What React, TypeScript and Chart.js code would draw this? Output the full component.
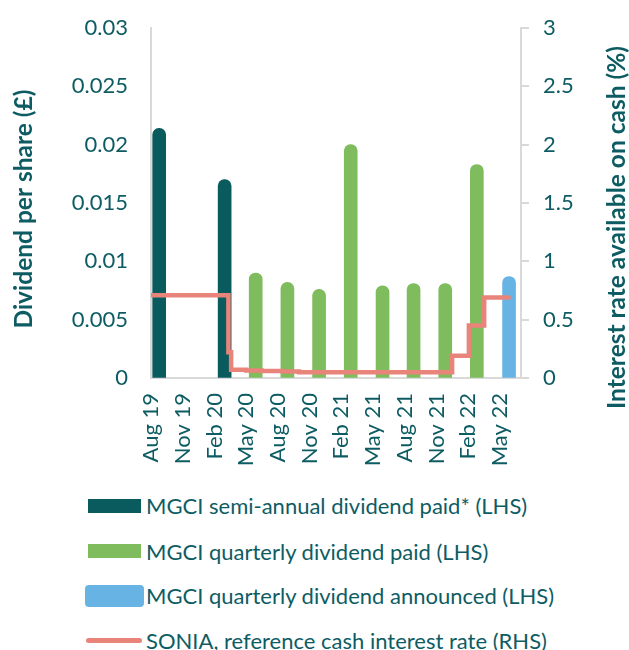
import React, { useEffect, useRef } from "react";
import { Chart, registerables } from "chart.js";

Chart.register(...registerables);

// ---- data ----
const tickLabels = ["Aug 19", "Nov 19", "Feb 20", "May 20", "Aug 20", "Nov 20", "Feb 21", "May 21", "Aug 21", "Nov 21", "Feb 22", "May 22"];
const tickDates = ["2019-08-01", "2019-11-01", "2020-02-01", "2020-05-01", "2020-08-01", "2020-11-01", "2021-02-01", "2021-05-01", "2021-08-01", "2021-11-01", "2022-02-01", "2022-05-01"];

const semiAnnualDates = ["2019-08-25", "2020-02-29"];
const semiAnnualValues = [0.0214, 0.017];

const quarterlyDates = ["2020-05-29", "2020-08-29", "2020-11-28", "2021-02-26", "2021-05-29", "2021-08-27", "2021-11-26", "2022-02-24"];
const quarterlyValues = [0.009, 0.0082, 0.0076, 0.02, 0.0079, 0.0081, 0.0081, 0.0183];

const announcedDates = ["2022-05-28"];
const announcedValues = [0.0087];

const soniaDates = ["2019-08-01", "2020-03-11", "2020-03-19", "2020-05-01", "2020-06-15", "2020-08-15", "2020-10-01", "2021-12-16", "2022-02-03", "2022-03-17", "2022-05-27"];
const soniaValues = [0.71, 0.22, 0.07, 0.065, 0.06, 0.055, 0.05, 0.19, 0.45, 0.69, 0.69];

const leftTickValues = [0, 0.005, 0.01, 0.015, 0.02, 0.025, 0.03];
const leftTickLabels = ["0", "0.005", "0.01", "0.015", "0.02", "0.025", "0.03"];
const rightTickValues = [0, 0.5, 1, 1.5, 2, 2.5, 3];
const rightTickLabels = ["0", "0.5", "1", "1.5", "2", "2.5", "3"];

const leftTitle = "Dividend per share (£)";
const rightTitle = "Interest rate available on cash (%)";
const legendLabels = [
  "MGCI semi-annual dividend paid* (LHS)",
  "MGCI quarterly dividend paid (LHS)",
  "MGCI quarterly dividend announced (LHS)",
  "SONIA, reference cash interest rate (RHS)",
];

// ---- styles ----
const FONT = "Lato, 'Open Sans', sans-serif";
const TEXT = "#0E5C63";
const TEAL = "#095B5E";
const GREEN = "#7EBC5E";
const BLUE = "#67B4E4";
const SALMON = "#E9847B";
const GRAY = "#D9D9D9";
const TICK_SIZE = 22;

function monthIndex(s: string): number {
  const [y, m, d] = s.split("-").map(Number);
  const dim = new Date(y, m, 0).getDate();
  return (y - 2019) * 12 + (m - 8) + (d - 1) / dim;
}

const toPoints = (dates: string[], vals: number[]) => dates.map((d, i) => ({ x: monthIndex(d), y: vals[i] }));

const titlePlugin = {
  id: "axisTitles",
  afterDraw(chart: any) {
    const { ctx, chartArea } = chart;
    const mid = (chartArea.top + chartArea.bottom) / 2;
    ctx.save();
    ctx.fillStyle = TEXT;
    ctx.font = `bold 24.5px ${FONT}`;
    ctx.textAlign = "center";
    ctx.textBaseline = "middle";
    ctx.save();
    ctx.translate(16, mid + 6);
    ctx.rotate(-Math.PI / 2);
    ctx.fillText(leftTitle, 0, 0);
    ctx.restore();
    ctx.save();
    ctx.translate(chartArea.right + 96, mid + 24.5);
    ctx.rotate(-Math.PI / 2);
    ctx.fillText(rightTitle, 0, 0);
    ctx.restore();
    ctx.restore();
  },
};

const barCommon = {
  type: "bar" as const,
  barThickness: 13,
  grouped: false,
  borderRadius: { topLeft: 7, topRight: 7, bottomLeft: 0, bottomRight: 0 },
  borderSkipped: "start" as const,
  order: 1,
  yAxisID: "y",
};

const noVertPadding = (s: any) => {
  s.paddingTop = 0;
  s.paddingBottom = 0;
};

export default function App() {
  const ref = useRef<HTMLCanvasElement>(null);

  useEffect(() => {
    if (!ref.current) return;
    const chart = new Chart(ref.current, {
      type: "bar",
      data: {
        datasets: [
          {
            type: "line",
            label: legendLabels[3],
            data: toPoints(soniaDates, soniaValues),
            yAxisID: "y1",
            borderColor: SALMON,
            backgroundColor: SALMON,
            borderWidth: 4.5,
            stepped: true,
            pointRadius: 0,
            borderCapStyle: "round",
            order: 0,
          } as any,
          { ...barCommon, label: legendLabels[0], data: toPoints(semiAnnualDates, semiAnnualValues), backgroundColor: TEAL } as any,
          { ...barCommon, label: legendLabels[1], data: toPoints(quarterlyDates, quarterlyValues), backgroundColor: GREEN } as any,
          { ...barCommon, label: legendLabels[2], data: toPoints(announcedDates, announcedValues), backgroundColor: BLUE } as any,
        ],
      },
      options: {
        animation: false,
        responsive: false,
        layout: { padding: { top: 20, left: 0, right: 0, bottom: 0 } },
        plugins: { legend: { display: false }, tooltip: { enabled: false } },
        scales: {
          x: {
            type: "linear",
            min: 0,
            max: 35,
            offset: false,
            z: 1,
            grid: { display: true, drawOnChartArea: false, drawTicks: false, color: GRAY },
            border: { display: true, color: GRAY, width: 2 },
            afterBuildTicks: (s: any) => {
              s.ticks = tickDates.map((d) => ({ value: monthIndex(d) }));
            },
            afterFit: (s: any) => {
              s.height = 100;
              s.paddingLeft = 0;
              s.paddingRight = 0;
            },
            ticks: {
              autoSkip: false,
              maxRotation: 90,
              minRotation: 90,
              padding: 15,
              color: TEXT,
              font: { family: FONT, size: TICK_SIZE },
              callback: (_v: any, i: number) => tickLabels[i],
            },
          },
          y: {
            position: "left",
            min: 0,
            max: 0.03,
            grid: { display: true, drawOnChartArea: false, drawTicks: false, color: GRAY },
            border: { display: true, color: GRAY, width: 2 },
            afterBuildTicks: (s: any) => {
              s.ticks = leftTickValues.map((v) => ({ value: v }));
            },
            afterFit: (s: any) => {
              s.width = 143;
              noVertPadding(s);
            },
            ticks: {
              padding: 23,
              color: TEXT,
              font: { family: FONT, size: TICK_SIZE },
              callback: (_v: any, i: number) => leftTickLabels[i],
            },
          },
          y1: {
            position: "right",
            min: 0,
            max: 3,
            grid: { display: true, drawOnChartArea: false, drawTicks: true, tickLength: 8, color: GRAY, lineWidth: 2 },
            border: { display: true, color: GRAY, width: 2 },
            afterBuildTicks: (s: any) => {
              s.ticks = rightTickValues.map((v) => ({ value: v }));
            },
            afterFit: (s: any) => {
              s.width = 108;
              noVertPadding(s);
            },
            ticks: {
              padding: 14,
              color: TEXT,
              font: { family: FONT, size: TICK_SIZE },
              callback: (_v: any, i: number) => rightTickLabels[i],
            },
          },
        },
      } as any,
      plugins: [titlePlugin],
    });
    return () => chart.destroy();
  }, []);

  const legendSymbols = [
    { w: 53, h: 14, r: 0, c: TEAL },
    { w: 53, h: 14, r: 0, c: GREEN },
    { w: 59, h: 22, r: 4, c: BLUE },
    { w: 56, h: 5, r: 3, c: SALMON },
  ];
  const rowCenters = [505.5, 551, 595.5, 640];

  return (
    <div style={{ position: "fixed", left: 0, top: 0, width: 629, height: 650, overflow: "hidden", background: "#fff" }}>
      <canvas ref={ref} width={621} height={470} style={{ position: "absolute", left: 8, top: 8, display: "block" }} />
      {legendLabels.map((lab, i) => (
        <div
          key={i}
          style={{
            position: "absolute",
            left: 84,
            top: rowCenters[i] - 22.5,
            height: 45,
            display: "flex",
            alignItems: "center",
            whiteSpace: "nowrap",
          }}
        >
          <div style={{ width: 60, display: "flex", justifyContent: "center", alignItems: "center" }}>
            <div
              style={{
                width: legendSymbols[i].w,
                height: legendSymbols[i].h,
                borderRadius: legendSymbols[i].r,
                background: legendSymbols[i].c,
              }}
            />
          </div>
          <span style={{ marginLeft: 2, fontFamily: FONT, fontSize: 22, color: TEXT }}>{lab}</span>
        </div>
      ))}
    </div>
  );
}
